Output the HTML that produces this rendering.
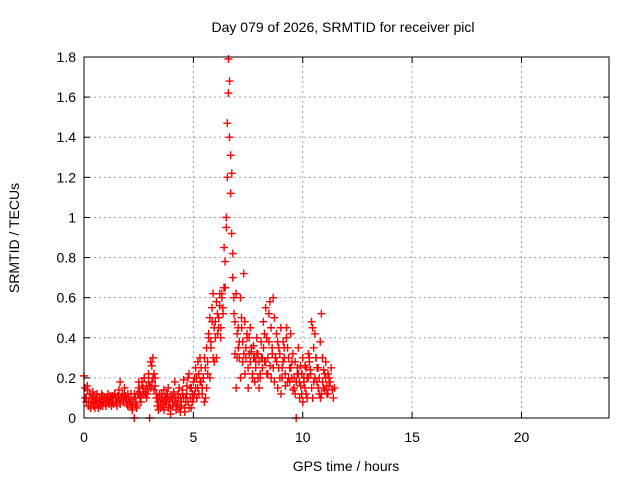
<!DOCTYPE html>
<html><head><meta charset="utf-8"><style>
body{margin:0;background:#fff;font-family:"Liberation Sans",sans-serif}
svg text{font-family:"Liberation Sans",sans-serif;font-size:14px;fill:#000}
</style></head><body>
<svg id="chart" width="640" height="480">
<text x="343" y="32" text-anchor="middle">Day 079 of 2026, SRMTID for receiver picl</text>
<text x="346" y="471" text-anchor="middle">GPS time / hours</text>
<text transform="translate(19,238) rotate(-90)" text-anchor="middle">SRMTID / TECUs</text>
<g id="grid"></g><g id="pts"></g>
<rect x="84" y="57" width="525" height="361" fill="none" stroke="#000" stroke-width="1"/>
<g id="ticks"></g>
</svg>
<script>
const xTicks=[0,5,10,15,20];
const yTicks=[0,0.2,0.4,0.6,0.8,1,1.2,1.4,1.6,1.8];
const yTickLabels=["0","0.2","0.4","0.6","0.8","1","1.2","1.4","1.6","1.8"];
const times=[0.0,0.05,0.1,0.15,0.2,0.25,0.3,0.35,0.4,0.45,0.5,0.55,0.6,0.65,0.7,0.75,0.8,0.85,0.9,0.95,1.0,1.05,1.1,1.15,1.2,1.25,1.3,1.35,1.4,1.45,1.5,1.55,1.6,1.65,1.7,1.75,1.8,1.85,1.9,1.95,2.0,2.05,2.1,2.15,2.2,2.25,2.3,2.35,2.4,2.45,2.5,2.55,2.6,2.65,2.7,2.75,2.8,2.85,2.9,2.95,3.0,3.05,3.1,3.15,3.2,3.25,3.3,3.35,3.4,3.45,3.5,3.55,3.6,3.65,3.7,3.75,3.8,3.85,3.9,3.95,4.0,4.05,4.1,4.15,4.2,4.25,4.3,4.35,4.4,4.45,4.5,4.55,4.6,4.65,4.7,4.75,4.8,4.85,4.9,4.95,5.0,5.05,5.1,5.15,5.2,5.25,5.3,5.35,5.4,5.45,5.5,5.55,5.6,5.65,5.7,5.75,5.8,5.85,5.9,5.95,6.0,6.05,6.1,6.15,6.2,6.25,6.3,6.35,6.4,6.45,6.5,6.55,6.6,6.65,6.7,6.75,6.8,6.85,6.9,6.95,7.0,7.05,7.1,7.15,7.2,7.25,7.3,7.35,7.4,7.45,7.5,7.55,7.6,7.65,7.7,7.75,7.8,7.85,7.9,7.95,8.0,8.05,8.1,8.15,8.2,8.25,8.3,8.35,8.4,8.45,8.5,8.55,8.6,8.65,8.7,8.75,8.8,8.85,8.9,8.95,9.0,9.05,9.1,9.15,9.2,9.25,9.3,9.35,9.4,9.45,9.5,9.55,9.6,9.65,9.7,9.75,9.8,9.85,9.9,9.95,10.0,10.05,10.1,10.15,10.2,10.25,10.3,10.35,10.4,10.45,10.5,10.55,10.6,10.65,10.7,10.75,10.8,10.85,10.9,10.95,11.0,11.05,11.1,11.15,11.2,11.25,11.3,11.35,11.4,11.45,11.5,11.55];
const valsA=[0.21,0.15,0.1,0.16,0.08,0.12,0.06,0.1,0.08,0.11,0.05,0.09,0.12,0.07,0.1,0.06,0.09,0.11,0.08,0.1,0.07,0.1,0.12,0.08,0.09,0.1,0.11,0.07,0.12,0.1,0.08,0.11,0.14,0.18,0.1,0.12,0.08,0.15,0.11,0.09,0.06,0.1,0.08,0.12,0.05,0.09,0.0,0.1,0.06,0.12,0.15,0.13,0.11,0.18,0.15,0.2,0.12,0.16,0.14,0.22,0.0,0.28,0.26,0.3,0.22,0.2,0.12,0.1,0.08,0.11,0.05,0.12,0.09,0.14,0.1,0.07,0.12,0.15,0.09,0.05,0.11,0.08,0.13,0.18,0.1,0.06,0.12,0.15,0.1,0.08,0.14,0.19,0.05,0.1,0.12,0.08,0.22,0.15,0.05,0.12,0.18,0.12,0.25,0.2,0.15,0.22,0.3,0.18,0.12,0.2,0.08,0.25,0.35,0.28,0.42,0.5,0.38,0.55,0.62,0.45,0.48,0.3,0.52,0.45,0.56,0.4,0.62,0.55,0.65,0.78,1.0,1.47,1.62,1.4,1.12,0.92,0.7,0.6,0.48,0.62,0.3,0.45,0.38,0.6,0.5,0.28,0.72,0.48,0.35,0.42,0.25,0.4,0.28,0.33,0.2,0.36,0.3,0.25,0.4,0.32,0.28,0.2,0.38,0.3,0.48,0.42,0.28,0.4,0.22,0.52,0.58,0.45,0.35,0.6,0.5,0.3,0.42,0.38,0.25,0.32,0.45,0.2,0.28,0.35,0.22,0.4,0.18,0.3,0.25,0.42,0.2,0.32,0.15,0.28,0.0,0.22,0.35,0.18,0.26,0.12,0.3,0.2,0.15,0.25,0.1,0.2,0.3,0.24,0.48,0.45,0.35,0.2,0.3,0.18,0.25,0.12,0.38,0.52,0.3,0.15,0.22,0.28,0.16,0.12,0.2,0.18,0.25,0.14,0.1,0.15];
const valsB=[0.1,0.08,0.14,0.06,0.12,0.05,0.09,0.13,0.06,0.08,0.1,0.07,0.05,0.1,0.08,0.12,0.06,0.08,0.1,0.06,0.09,0.08,0.07,0.11,0.06,0.08,0.1,0.12,0.08,0.06,0.1,0.09,0.07,0.1,0.12,0.08,0.11,0.1,0.07,0.12,0.1,0.08,0.06,0.04,0.08,0.12,0.07,0.05,0.12,0.18,0.1,0.08,0.16,0.12,0.2,0.13,0.1,0.12,0.18,0.16,0.15,0.18,0.2,0.14,0.16,0.1,0.06,0.04,0.12,0.07,0.1,0.06,0.04,0.08,0.12,0.1,0.05,0.08,0.02,0.1,0.06,0.12,0.08,0.04,0.07,0.1,0.05,0.03,0.06,0.12,0.1,0.03,0.08,0.16,0.2,0.05,0.1,0.15,0.08,0.1,0.2,0.15,0.1,0.28,0.12,0.18,0.25,0.15,0.2,0.3,0.1,0.15,0.22,0.4,0.2,0.35,0.48,0.3,0.28,0.4,0.58,0.42,0.5,0.62,0.45,0.6,0.52,0.85,0.65,0.95,1.2,1.79,1.68,1.31,1.22,0.82,0.52,0.32,0.15,0.42,0.35,0.3,0.2,0.45,0.38,0.32,0.22,0.3,0.4,0.15,0.32,0.45,0.35,0.22,0.3,0.18,0.28,0.32,0.2,0.15,0.22,0.3,0.25,0.35,0.28,0.55,0.22,0.3,0.38,0.26,0.2,0.32,0.25,0.18,0.3,0.28,0.15,0.35,0.2,0.12,0.25,0.38,0.3,0.16,0.45,0.35,0.2,0.18,0.25,0.28,0.14,0.2,0.12,0.18,0.25,0.22,0.1,0.16,0.22,0.08,0.18,0.26,0.12,0.2,0.32,0.28,0.22,0.15,0.1,0.18,0.42,0.3,0.25,0.15,0.2,0.1,0.12,0.18,0.24,0.14,0.2,0.12,0.22,0.16];
const NS="http://www.w3.org/2000/svg";
const X0=84,X1=609,Y0=418,Y1=57;
function xs(t){return X0+(t/24)*(X1-X0);}
function ys(v){return Y0-(v/1.8)*(Y0-Y1);}
function mk(tag,attrs,parent){const e=document.createElementNS(NS,tag);for(const k in attrs)e.setAttribute(k,attrs[k]);parent.appendChild(e);return e;}
const grid=document.getElementById('grid'),ticks=document.getElementById('ticks'),pts=document.getElementById('pts');
xTicks.forEach(t=>{const x=xs(t);
 if(t>0){const g=mk('line',{x1:x,x2:x,y1:Y0,y2:Y1,stroke:'#a0a0a0','stroke-dasharray':'2,3'},grid);
 
 }
 mk('line',{x1:x,x2:x,y1:Y0,y2:Y0-6,stroke:'#000'},ticks);
 mk('line',{x1:x,x2:x,y1:Y1,y2:Y1+6,stroke:'#000'},ticks);
 const l=mk('text',{x:x,y:Y0+24,'text-anchor':'middle'},ticks);l.textContent=t;
 
 });
yTicks.forEach((v,i)=>{const y=ys(v);
 if(v>0&&v<1.8){const g=mk('line',{x1:X0,x2:X1,y1:y,y2:y,stroke:'#a0a0a0','stroke-dasharray':'2,3'},grid);
 
 }
 mk('line',{x1:X0,x2:X0+6,y1:y,y2:y,stroke:'#000'},ticks);
 mk('line',{x1:X1,x2:X1-6,y1:y,y2:y,stroke:'#000'},ticks);
 const l=mk('text',{x:X0-8,y:y+5,'text-anchor':'end'},ticks);l.textContent=yTickLabels[i];
 
 });
function plus(t,v,off){const x=xs(t)+off,y=ys(v);
 const p=mk('path',{d:`M${x-4},${y}h8M${x},${y-4}v8`,stroke:'#f00','stroke-width':1.4},pts);
 
 }
times.forEach((t,i)=>{plus(t,valsA[i],0);plus(t,valsB[i],1.2);});
</script>
</body></html>
